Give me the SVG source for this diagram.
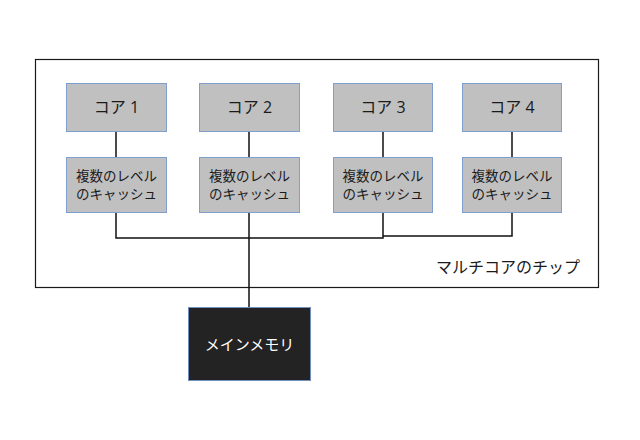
<svg xmlns="http://www.w3.org/2000/svg" width="640" height="440" viewBox="0 0 640 440">
<defs>
<style>
.box{fill:#c0c0c0;stroke:#7f9fcf;stroke-width:1}
.mem{fill:#232323;stroke:#6f8fbf;stroke-width:1}
.t{font-family:"Open Sans","Noto Sans CJK JP",sans-serif;fill:#1a1a1a;text-anchor:middle}
.core{font-size:16px}
.cache{font-size:13.5px}
.line{stroke:#111;stroke-width:1.5;fill:none}
</style>
</defs>
<rect width="640" height="440" fill="#ffffff"/>
<g id="chip">
<rect x="35.5" y="59.5" width="563" height="228" fill="#ffffff" stroke="#1a1a1a" stroke-width="1.2"/>
<text class="t" x="580" y="273" style="text-anchor:end;font-size:16px">マルチコアのチップ</text>
</g>
<g id="connectors">
<path class="line" d="M116,131 V157 M249,131 V157 M383,131 V157 M512,131 V157"/>
<path class="line" d="M116,212 V238 H383 V212 M383,236 H512 V212 M249,212 V307"/>
</g>
<g id="core1"><rect class="box" x="66.5" y="83.5" width="100" height="48"/><text class="t core" x="116.5" y="113">コア 1</text></g>
<g id="core2"><rect class="box" x="199.5" y="83.5" width="100" height="48"/><text class="t core" x="249.5" y="113">コア 2</text></g>
<g id="core3"><rect class="box" x="333.5" y="83.5" width="99" height="48"/><text class="t core" x="383" y="113">コア 3</text></g>
<g id="core4"><rect class="box" x="462.5" y="83.5" width="99" height="48"/><text class="t core" x="512" y="113">コア 4</text></g>
<g id="cache1"><rect class="box" x="66.5" y="157.5" width="100" height="55"/><text class="t cache" x="116.5" y="181">複数のレベル</text><text class="t cache" x="116.5" y="199">のキャッシュ</text></g>
<g id="cache2"><rect class="box" x="199.5" y="157.5" width="100" height="55"/><text class="t cache" x="249.5" y="181">複数のレベル</text><text class="t cache" x="249.5" y="199">のキャッシュ</text></g>
<g id="cache3"><rect class="box" x="333.5" y="157.5" width="99" height="55"/><text class="t cache" x="383" y="181">複数のレベル</text><text class="t cache" x="383" y="199">のキャッシュ</text></g>
<g id="cache4"><rect class="box" x="462.5" y="157.5" width="99" height="55"/><text class="t cache" x="512" y="181">複数のレベル</text><text class="t cache" x="512" y="199">のキャッシュ</text></g>
<g id="memory"><rect class="mem" x="188.5" y="307.5" width="122" height="73"/><text class="t" x="249.5" y="350" style="fill:#ffffff;font-size:15px">メインメモリ</text></g>
</svg>
